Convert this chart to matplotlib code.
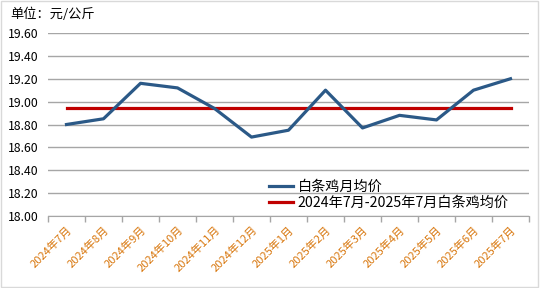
import matplotlib
matplotlib.use("Agg")
import matplotlib.pyplot as plt
from matplotlib.patches import Rectangle

plt.rcParams['font.family'] = ['Noto Sans CJK SC', 'DejaVu Sans']

# 数据
months = ["2024年7月", "2024年8月", "2024年9月", "2024年10月", "2024年11月", "2024年12月",
          "2025年1月", "2025年2月", "2025年3月", "2025年4月", "2025年5月", "2025年6月", "2025年7月"]
monthly_price = [18.80, 18.85, 19.16, 19.12, 18.94, 18.69, 18.75, 19.10, 18.77, 18.88, 18.84, 19.10, 19.20]
avg_price = 18.94
y_ticks = [18.00, 18.20, 18.40, 18.60, 18.80, 19.00, 19.20, 19.40, 19.60]

fig = plt.figure(figsize=(5.4, 2.88), dpi=100)
ax = fig.add_axes([48 / 540, 1 - 216 / 288, 481 / 540, 183 / 288])

x = list(range(len(months)))
ax.plot(x, monthly_price, color="#2B5987", linewidth=2.3, label="白条鸡月均价", zorder=3)
ax.plot(x, [avg_price] * len(x), color="#C00000", linewidth=2.3,
        label="2024年7月-2025年7月白条鸡均价", zorder=2)

ax.set_xlim(-0.5, len(months) - 0.5)
ax.set_ylim(18.0, 19.6)
ax.set_yticks(y_ticks)
ax.set_yticklabels([f"{v:.2f}" for v in y_ticks], fontsize=8.8)
ax.yaxis.grid(True, color="#A6A6A6", linewidth=1.0)
ax.set_axisbelow(True)
ax.tick_params(axis="y", length=0, pad=7)

# 类别之间的刻度线
ax.set_xticks([i - 0.5 for i in range(len(months) + 1)])
ax.set_xticklabels([])
ax.tick_params(axis="x", which="major", length=4, color="#A6A6A6", width=1.0)
ax.set_xticks(x, minor=True)
ax.set_xticklabels(months, minor=True, rotation=45, ha="right", rotation_mode="anchor",
                   fontsize=8.0, color="#D8760C")
ax.tick_params(axis="x", which="minor", length=0, pad=6)

for side in ["left", "right", "top"]:
    ax.spines[side].set_visible(False)
ax.spines["bottom"].set_color("#A6A6A6")

ax.legend(loc="lower right", bbox_to_anchor=(0.975, -0.015), frameon=False, fontsize=10.2,
          handlelength=1.7, handletextpad=0.3, labelspacing=0.15, borderaxespad=0.2)

fig.text(10 / 540, 1 - 14 / 288, "单位：元/公斤", fontsize=9.5, va="center", ha="left")

fig.patches.append(Rectangle((0.002, 0.003), 0.995, 0.993, transform=fig.transFigure,
                             fill=False, edgecolor="#D9D9D9", linewidth=1.0))

fig.savefig("out.png", dpi=100)
